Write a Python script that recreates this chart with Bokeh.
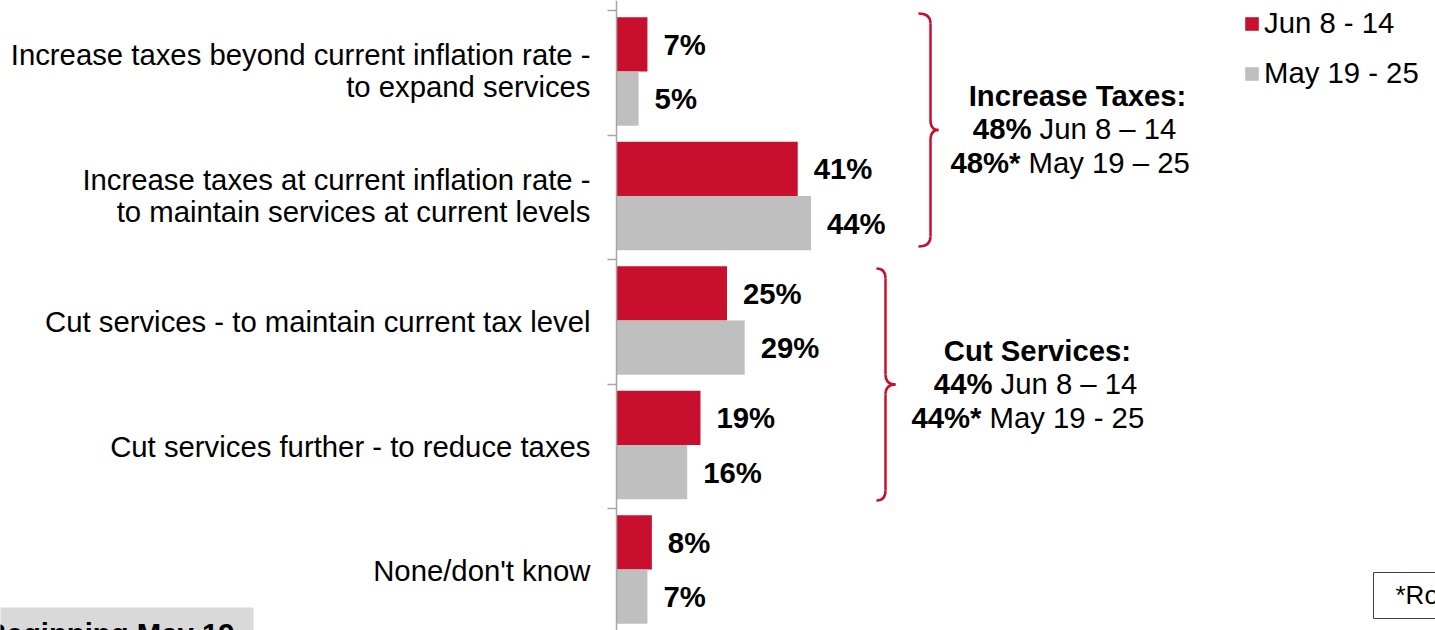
from bokeh.plotting import figure
from bokeh.models import ColumnDataSource, Range1d, LinearAxis, FixedTicker, Legend, LegendItem
from bokeh.core.properties import value
from bokeh.embed import file_html
from bokeh.resources import INLINE

# ---------------- data ----------------
categories = [
    "Increase taxes beyond current inflation rate -\nto expand services",
    "Increase taxes at current inflation rate -\nto maintain services at current levels",
    "Cut services - to maintain current tax level",
    "Cut services further - to reduce taxes",
    "None/don't know",
]
jun_values = [7, 41, 25, 19, 8]
may_values = [5, 44, 29, 16, 7]
series_labels = ["Jun 8 - 14", "May 19 - 25"]

group_titles = ["Increase Taxes:", "Cut Services:"]
group_jun_pct = ["48%", "44%"]
group_may_pct = ["48%*", "44%*"]
group_jun_txt = ["Jun 8 \u2013 14", "Jun 8 \u2013 14"]
group_may_txt = ["May 19 \u2013 25", "May 19 - 25"]

footer_left = "Beginning May 19"
footer_right = "*Rounding"

# ---------------- styling ----------------
RED = "#c8102e"
GRAY = "#bfbfbf"
AXIS = "#a6a6a6"
FONT = "Liberation Sans"
FS = "29.3px"

W, H = 1435, 630
PX_PER_PCT = 4.42
ORIGIN_X = 616          # canvas x of 0%
TOP_Y = 10              # canvas y of first category boundary
BAND = 124.5            # px per category


def DX(px):
    return (px - ORIGIN_X) / PX_PER_PCT


def DY(py):
    return (py - TOP_Y) / BAND


p = figure(
    width=W, height=H,
    x_range=Range1d(-ORIGIN_X / PX_PER_PCT, (W - ORIGIN_X) / PX_PER_PCT),
    y_range=Range1d((H - TOP_Y) / BAND, -TOP_Y / BAND),
    x_axis_type=None, y_axis_type=None,
    toolbar_location=None, output_backend="svg",
    min_border=0,
)
p.outline_line_color = None
p.background_fill_color = "white"
p.border_fill_color = "white"

idx = list(range(len(categories)))
src = ColumnDataSource(dict(
    y_jun=[i + 0.272 for i in idx],
    y_may=[i + 0.708 for i in idx],
    y_mid=[i + 0.5 for i in idx],
    jun=jun_values,
    may=may_values,
    jun_lbl=[f"{v}%" for v in jun_values],
    may_lbl=[f"{v}%" for v in may_values],
    cat=categories,
    cat_dy=[-2 if "\n" in c else 0 for c in categories],
    zero=[0] * len(idx),
))

r_jun = p.hbar(y="y_jun", left=0, right="jun", height=0.436, source=src,
               fill_color=RED, line_color=None)
r_may = p.hbar(y="y_may", left=0, right="may", height=0.436, source=src,
               fill_color=GRAY, line_color=None)

# value labels
for col, ycol in (("jun", "y_jun"), ("may", "y_may")):
    p.text(x=col, y=ycol, text=f"{col}_lbl", source=src, x_offset=16,
           text_align="left", text_baseline="middle",
           text_font=value(FONT), text_font_size=FS, text_font_style="bold",
           text_color="#000000")

# category labels
p.text(x="zero", y="y_mid", text="cat", source=src, x_offset=-26, y_offset="cat_dy",
       text_align="right", text_baseline="middle", text_line_height=0.97,
       text_font=value(FONT), text_font_size=FS, text_color="#000000")

# axis line with ticks at category boundaries
ax = LinearAxis(fixed_location=0, ticker=FixedTicker(ticks=list(range(len(categories) + 1))),
                major_tick_out=9, major_tick_in=0, minor_tick_out=0, minor_tick_in=0,
                axis_line_color=AXIS, axis_line_width=1.5,
                major_tick_line_color=AXIS, major_tick_line_width=1.5,
                major_label_overrides={i: "" for i in range(len(categories) + 1)})
p.add_layout(ax, "left")


# braces
def brace(xr, top, bot, curl, tip, r=10):
    mid = (top + bot) / 2
    p.quadratic(
        x0=[DX(xr - curl), DX(xr), DX(xr + tip), DX(xr)],
        y0=[DY(top), DY(mid - r), DY(mid), DY(bot - r)],
        x1=[DX(xr), DX(xr + tip), DX(xr), DX(xr - curl)],
        y1=[DY(top + r), DY(mid), DY(mid + r), DY(bot)],
        cx=[DX(xr), DX(xr), DX(xr), DX(xr)],
        cy=[DY(top), DY(mid), DY(mid), DY(bot)],
        line_color=RED, line_width=2.5)
    p.segment(x0=[DX(xr), DX(xr)], y0=[DY(top + r), DY(mid + r)],
              x1=[DX(xr), DX(xr)], y1=[DY(mid - r), DY(bot - r)],
              line_color=RED, line_width=2.5)


brace(930, 13, 246, 12, 8)
brace(885, 268, 500, 9, 10)

# group summaries
title_pos = [(1077, 95), (1037, 350)]
line2 = [(1031, 128), (992, 383)]
line3 = [(1020, 162), (981, 417)]
for g in range(2):
    tx, ty = title_pos[g]
    p.text(x=[DX(tx)], y=[DY(ty)], text=[group_titles[g]], text_align="center",
           text_baseline="middle", text_font=value(FONT), text_font_size=FS,
           text_font_style="bold", text_color="#000000")
    for (sx, sy), pct, txt in ((line2[g], group_jun_pct[g], group_jun_txt[g]),
                               (line3[g], group_may_pct[g], group_may_txt[g])):
        p.text(x=[DX(sx)], y=[DY(sy)], text=[pct], text_align="right",
               text_baseline="middle", text_font=value(FONT), text_font_size=FS,
               text_font_style="bold", text_color="#000000")
        p.text(x=[DX(sx)], y=[DY(sy)], text=[txt], x_offset=8, text_align="left",
               text_baseline="middle", text_font=value(FONT), text_font_size=FS,
               text_color="#000000")

# footer boxes
p.quad(left=[DX(-20)], right=[DX(253)], top=[DY(607)], bottom=[DY(700)],
       fill_color="#d9d9d9", line_color=None)
p.text(x=[DX(234)], y=[DY(616)], text=[footer_left], text_align="right",
       text_baseline="top", text_font=value(FONT), text_font_size=FS,
       text_font_style="bold", text_color="#000000")
p.quad(left=[DX(1373)], right=[DX(1500)], top=[DY(572)], bottom=[DY(618)],
       fill_color="white", line_color="#404040", line_width=1)
p.text(x=[DX(1395)], y=[DY(594)], text=[footer_right], text_align="left",
       text_baseline="middle", text_font=value(FONT), text_font_size="26px",
       text_color="#000000")

# legend
legend = Legend(
    items=[LegendItem(label=series_labels[0], renderers=[r_jun]),
           LegendItem(label=series_labels[1], renderers=[r_may])],
    location=(1243, 540), orientation="vertical",
    glyph_width=17, glyph_height=17, label_standoff=4, spacing=16,
    padding=0, margin=0, border_line_color=None, background_fill_alpha=0,
    label_text_font=FONT, label_text_font_size=FS, label_text_color="#000000",
)
p.add_layout(legend)

open("out.html", "w").write(file_html(p, INLINE))
